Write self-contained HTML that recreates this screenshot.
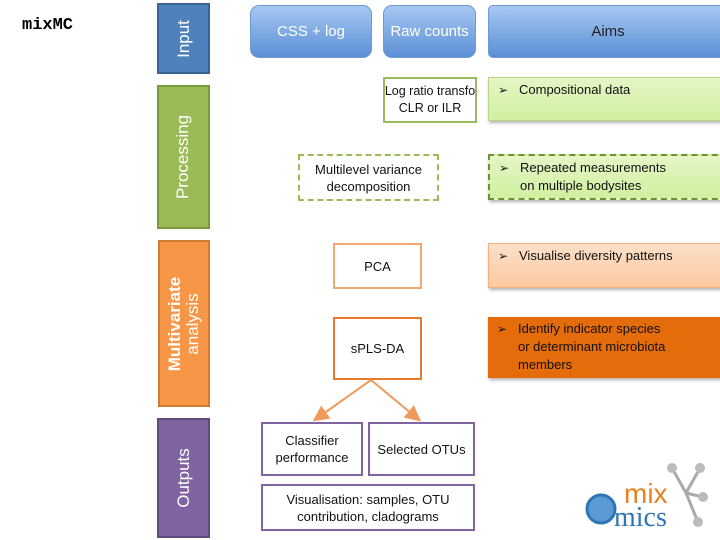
<!DOCTYPE html>
<html><head><style>
body{margin:0;width:720px;height:540px;background:#fff;position:relative;overflow:hidden;font-family:"Liberation Sans",sans-serif;}
.a{position:absolute;box-sizing:border-box;}
.bar{color:#fff;display:flex;align-items:center;justify-content:center;}
.bar span{transform:rotate(-90deg);white-space:nowrap;font-size:17px;text-align:center;line-height:18px;}
.btn{border-radius:9px;background:linear-gradient(#a6c8f2,#5b8fd6);border:1px solid #6f99d0;color:#fff;font-size:15px;display:flex;align-items:center;justify-content:center;white-space:nowrap;}
.box{border:2px solid;display:flex;align-items:center;justify-content:center;text-align:center;font-size:13px;line-height:17px;color:#111;white-space:nowrap;}
.aim{font-size:13px;line-height:18px;padding:3px 0 0 30px;color:#111;box-shadow:1px 2px 3px rgba(0,0,0,.3);}
.aim:before{content:"➢";position:absolute;left:9px;top:3px;font-size:12px;}
</style></head><body>
<div class="a" style="left:22px;top:16px;font-family:'Liberation Mono',monospace;font-weight:bold;font-size:17px;">mixMC</div>
<div class="a bar" style="left:157px;top:3px;width:53px;height:71px;background:#4f81bd;border:2px solid #3a6496;"><span>Input</span></div>
<div class="a bar" style="left:157px;top:85px;width:53px;height:144px;background:#9bbb59;border:2px solid #7a9a3e;"><span>Processing</span></div>
<div class="a bar" style="left:158px;top:240px;width:52px;height:167px;background:#f79646;border:2px solid #d07b32;"><span><b>Multivariate</b><br>analysis</span></div>
<div class="a bar" style="left:157px;top:418px;width:53px;height:120px;background:#8064a2;border:2px solid #604a80;"><span>Outputs</span></div>
<div class="a btn" style="left:250px;top:5px;width:122px;height:53px;">CSS + log</div>
<div class="a btn" style="left:383px;top:5px;width:93px;height:53px;">Raw counts</div>
<div class="a btn" style="left:488px;top:5px;width:240px;height:53px;border-radius:5px 0 0 5px;color:#222;">Aims</div>
<div class="a box" style="left:383px;top:77px;width:94px;height:46px;border-color:#9bbb59;font-size:12.5px;">Log ratio transfo<br>CLR or ILR</div>
<div class="a aim" style="left:488px;top:77px;width:240px;height:44px;background:linear-gradient(#e4f6c6,#d0f0a0);border:1px solid #b8d58a;">Compositional data</div>
<div class="a box" style="left:298px;top:154px;width:141px;height:47px;border:2px dashed #9bbb59;">Multilevel variance<br>decomposition</div>
<div class="a aim" style="left:488px;top:154px;width:240px;height:46px;background:linear-gradient(#e4f6c6,#d0f0a0);border:2px dashed #6f8f3a;">Repeated measurements<br>on multiple bodysites</div>
<div class="a box" style="left:333px;top:243px;width:89px;height:46px;border-color:#f4a870;">PCA</div>
<div class="a aim" style="left:488px;top:243px;width:240px;height:45px;background:linear-gradient(#fde0c8,#fbc9a0);border:1px solid #f2b080;">Visualise diversity patterns</div>
<div class="a box" style="left:333px;top:317px;width:89px;height:63px;border-color:#e47c2a;">sPLS-DA</div>
<div class="a aim" style="left:488px;top:317px;width:240px;height:61px;background:#e46c0a;">Identify indicator species<br>or determinant microbiota<br>members</div>
<svg class="a" style="left:0;top:0" width="720" height="540">
<defs><marker id="m" markerWidth="8" markerHeight="8" refX="6" refY="4" orient="auto"><path d="M0,0L8,4L0,8z" fill="#ef9a5a"/></marker></defs>
<line x1="371" y1="380" x2="316" y2="419" stroke="#ef9a5a" stroke-width="2" marker-end="url(#m)"/>
<line x1="371" y1="380" x2="418" y2="419" stroke="#ef9a5a" stroke-width="2" marker-end="url(#m)"/>
<g stroke="#aaa" stroke-width="3"><line x1="672" y1="468" x2="686" y2="493"/><line x1="686" y1="493" x2="700" y2="468"/><line x1="686" y1="493" x2="703" y2="497"/><line x1="686" y1="493" x2="698" y2="522"/></g>
<g fill="#bbb"><circle cx="672" cy="468" r="5"/><circle cx="700" cy="468" r="5"/><circle cx="703" cy="497" r="5"/><circle cx="698" cy="522" r="5"/></g>
<circle cx="601" cy="509" r="14" fill="#5b9bd5" stroke="#2e75b6" stroke-width="3"/>
<text x="624" y="503" font-family="Liberation Sans" font-size="28" fill="#e8821e">mix</text>
<text x="614" y="526" font-family="Liberation Serif" font-size="28" fill="#2e75b6">mics</text>
</svg>
<div class="a box" style="left:261px;top:422px;width:102px;height:54px;border-color:#8064a2;">Classifier<br>performance</div>
<div class="a box" style="left:368px;top:422px;width:107px;height:54px;border-color:#8064a2;">Selected OTUs</div>
<div class="a box" style="left:261px;top:484px;width:214px;height:47px;border-color:#8064a2;">Visualisation: samples, OTU<br>contribution, cladograms</div>
</body></html>
